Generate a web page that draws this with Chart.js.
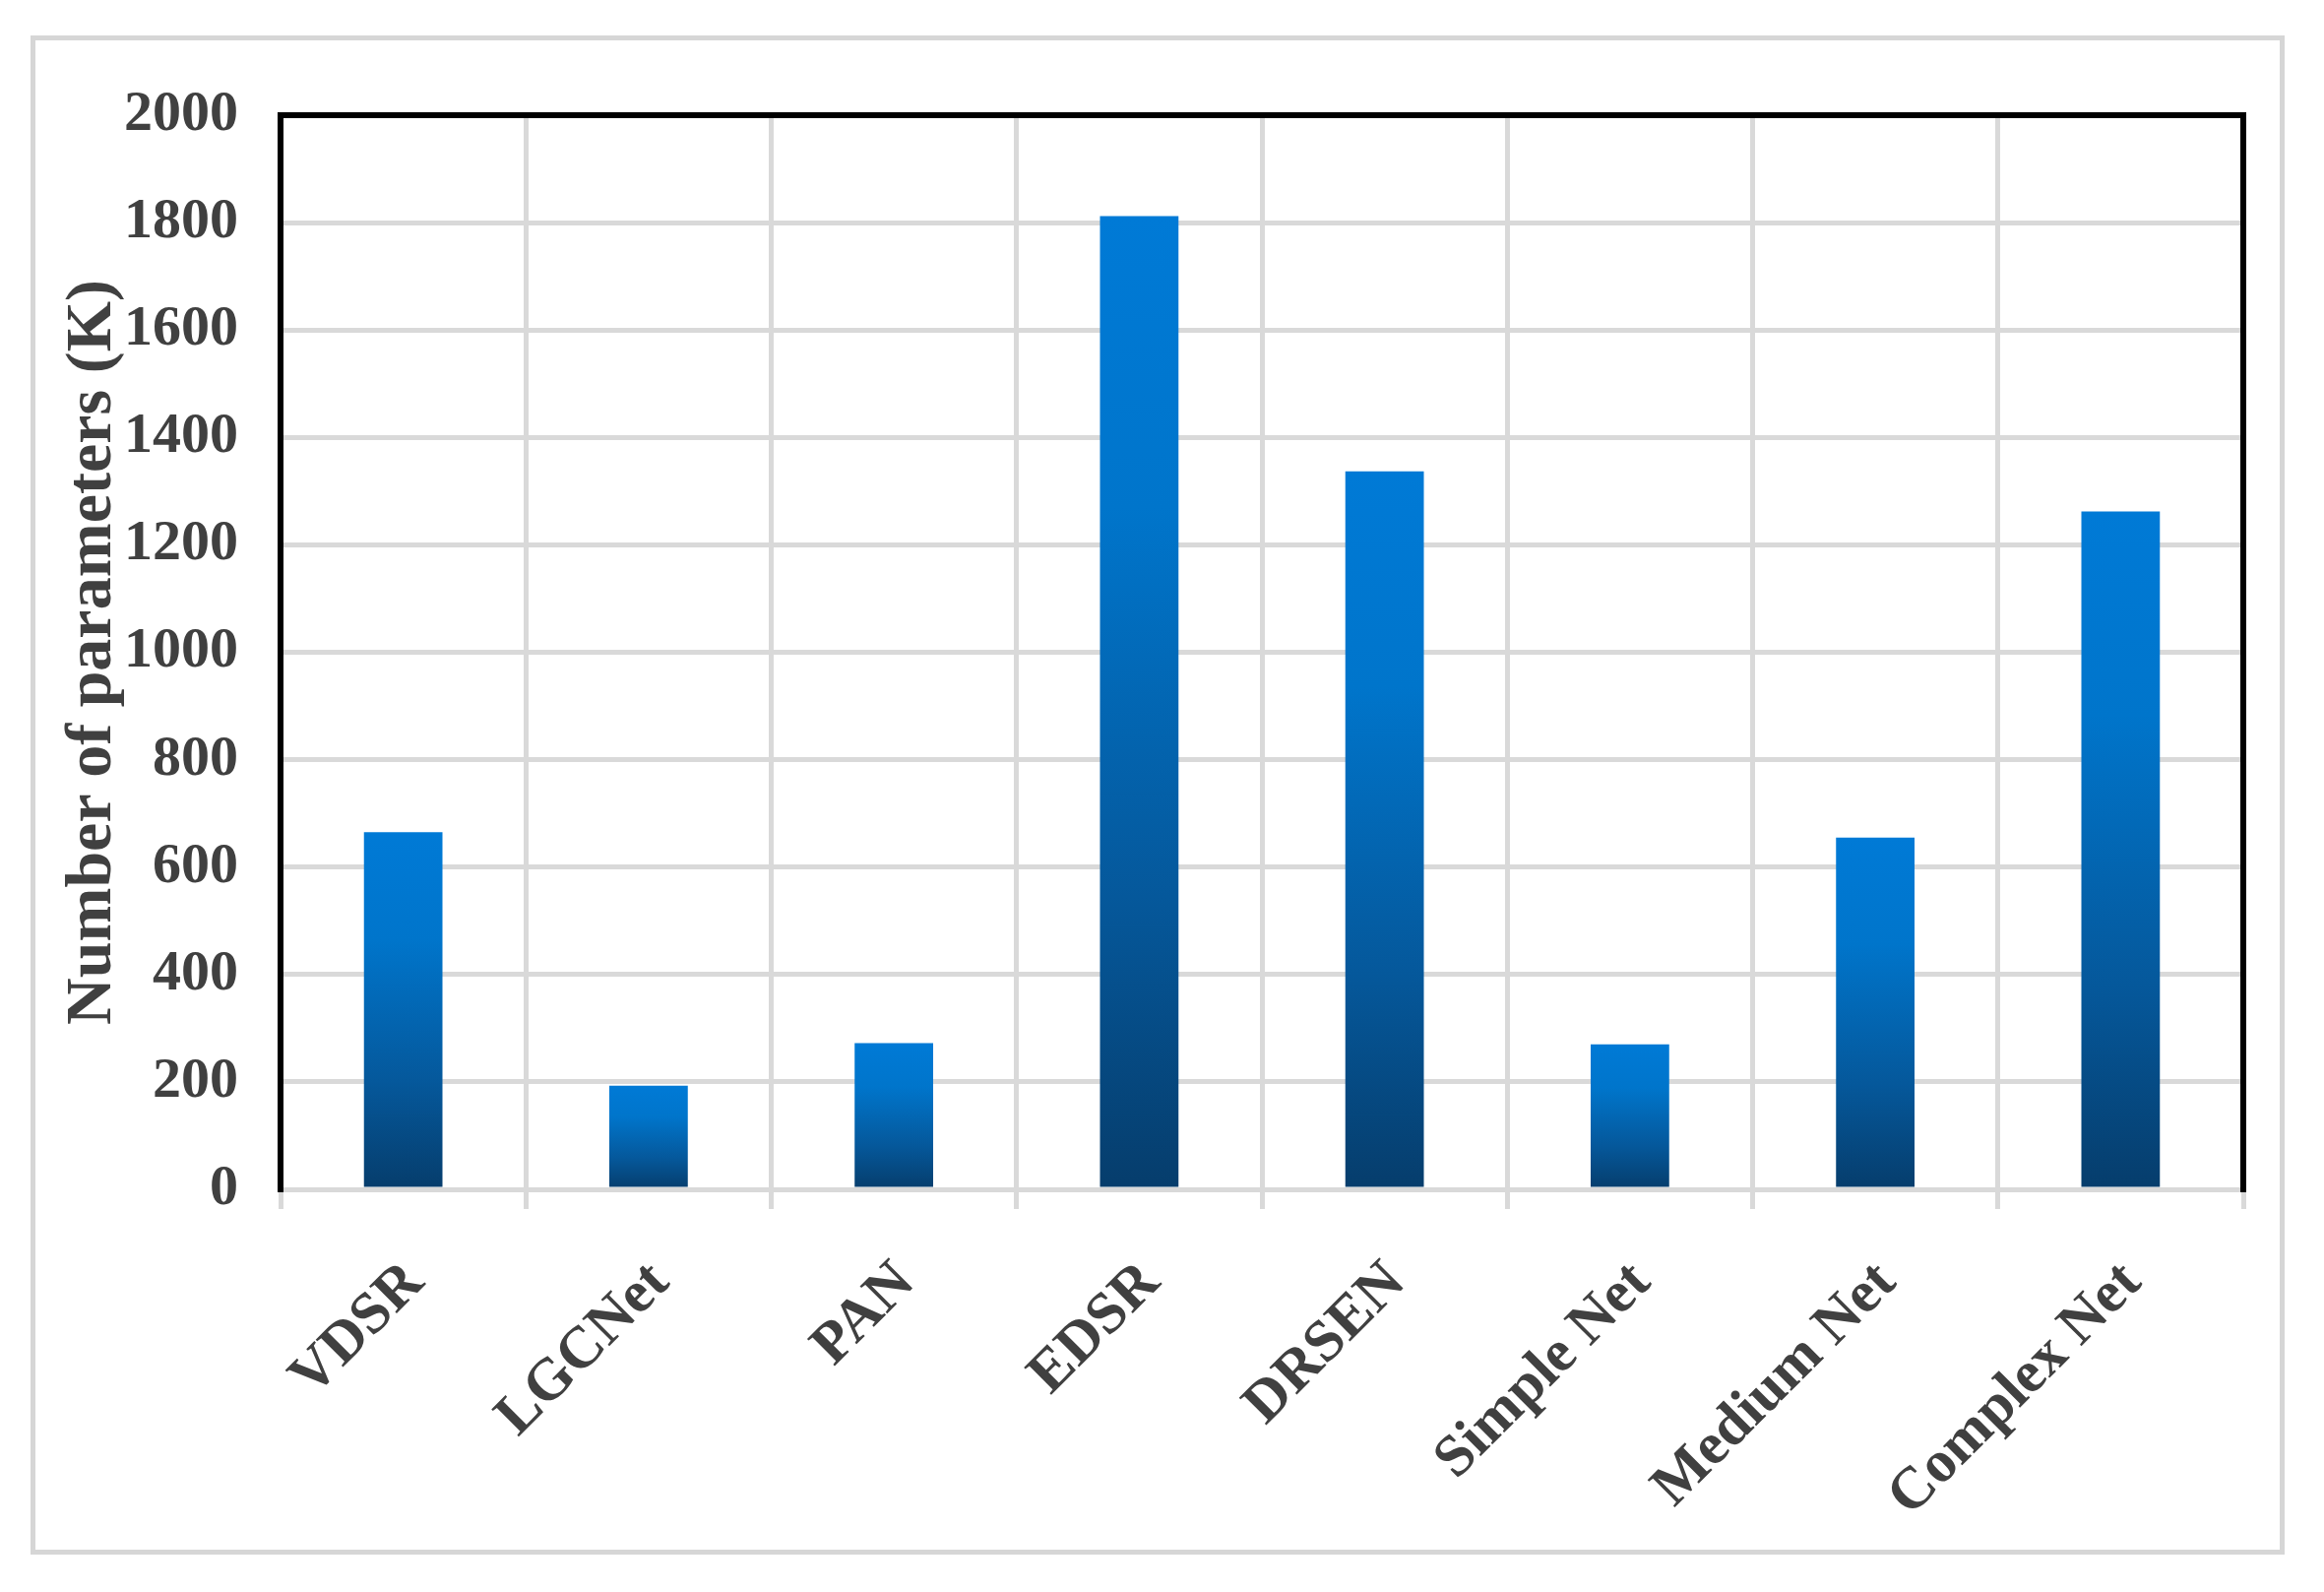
<!DOCTYPE html>
<html>
<head>
<meta charset="utf-8">
<script src="https://cdn.jsdelivr.net/npm/chart.js@4.4.1/dist/chart.umd.min.js"></script>
<style>
  html, body { margin: 0; padding: 0; background: #ffffff; }
  #frame {
    position: absolute; left: 31px; top: 36px; width: 2290px; height: 1543px;
    border: 5px solid #d6d6d6; box-sizing: border-box;
  }
  #wrap { position: absolute; left: 0; top: 0; width: 2361px; height: 1617px; }
</style>
</head>
<body>
<div id="frame"></div>
<div id="wrap"><canvas id="paramChart"></canvas></div>
<script>
const categories = ["VDSR", "LGCNet", "PAN", "EDSR", "DRSEN", "Simple Net", "Medium Net", "Complex Net"];
const paramCounts = [665, 193, 272, 1812, 1337, 270, 655, 1262];
const yTickValues = [0, 200, 400, 600, 800, 1000, 1200, 1400, 1600, 1800, 2000];
const yAxisTitle = "Number of parameters (K)";

const textColor = "#404040";
const gridColor = "#d9d9d9";

// black frame on left, top and right of the plot area
const plotFrame = {
  id: "plotFrame",
  afterDatasetsDraw(chart) {
    const a = chart.chartArea;
    const ctx = chart.ctx;
    ctx.save();
    ctx.strokeStyle = "#000000";
    ctx.lineWidth = 6;
    ctx.lineCap = "square";
    ctx.beginPath();
    ctx.moveTo(a.left, a.bottom);
    ctx.lineTo(a.left, a.top);
    ctx.lineTo(a.right, a.top);
    ctx.lineTo(a.right, a.bottom);
    ctx.stroke();
    ctx.restore();
  },
};

function barGradient(context) {
  const chart = context.chart;
  if (!chart.chartArea || context.type !== "data") return "#0078d4";
  const yScale = chart.scales.y;
  const top = yScale.getPixelForValue(context.raw);
  const bottom = yScale.getPixelForValue(0);
  const g = chart.ctx.createLinearGradient(0, top, 0, bottom);
  g.addColorStop(0, "#007ad6");
  g.addColorStop(0.3, "#0075cb");
  g.addColorStop(0.7, "#05589b");
  g.addColorStop(1, "#063d6c");
  return g;
}

const ctx = document.getElementById("paramChart").getContext("2d");
new Chart(ctx, {
  type: "bar",
  data: {
    labels: categories,
    datasets: [
      {
        label: yAxisTitle,
        data: paramCounts,
        backgroundColor: barGradient,
        borderWidth: 0,
        categoryPercentage: 1,
        barPercentage: 0.32,
      },
    ],
  },
  options: {
    responsive: true,
    maintainAspectRatio: false,
    animation: false,
    layout: { padding: { left: 0, top: 117, right: 82, bottom: 0 } },
    plugins: {
      legend: { display: false },
      tooltip: { enabled: false },
    },
    scales: {
      x: {
        grid: {
          color: gridColor,
          lineWidth: 5,
          drawTicks: true,
          tickLength: 20,
          offset: true,
        },
        border: { display: true, color: gridColor, width: 5 },
        ticks: {
          autoSkip: false,
          maxRotation: 45,
          minRotation: 45,
          padding: 40,
          labelOffset: 12,
          color: textColor,
          font: { family: "Liberation Serif", size: 60, weight: "bold" },
        },
        afterFit(scale) {
          scale.height = 409;
        },
      },
      y: {
        min: yTickValues[0],
        max: yTickValues[yTickValues.length - 1],
        afterBuildTicks(scale) {
          scale.ticks = yTickValues.map((v) => ({ value: v }));
        },
        grid: { color: gridColor, lineWidth: 5, drawTicks: false },
        border: { display: false },
        ticks: {
          padding: 43,
          color: textColor,
          font: { family: "Liberation Serif", size: 58, weight: "bold" },
          callback: (value) => String(value),
        },
        title: {
          display: true,
          text: yAxisTitle,
          color: textColor,
          padding: { top: 55, bottom: 0 },
          font: { family: "Liberation Serif", size: 66, weight: "bold" },
        },
        afterFit(scale) {
          scale.width = 285;
        },
      },
    },
  },
  plugins: [plotFrame],
});
</script>
</body>
</html>
